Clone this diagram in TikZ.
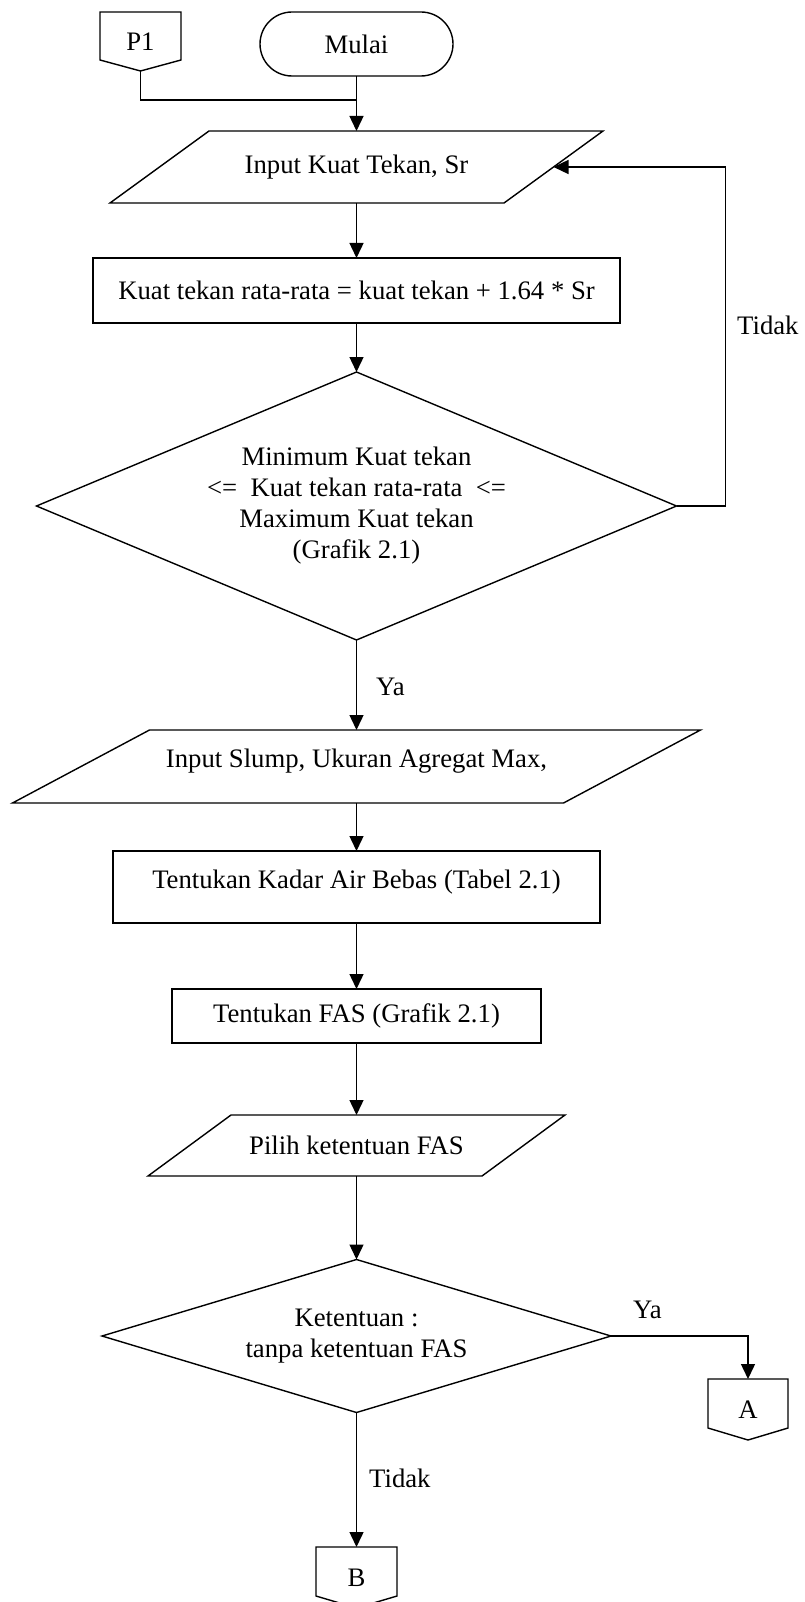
\documentclass[tikz,border=0pt]{standalone}
\usepackage{fontspec}
\setmainfont{Liberation Serif}
\usetikzlibrary{arrows.meta,calc}
\begin{document}
\begin{tikzpicture}[x=1pt,y=-1pt,
  font=\fontsize{26.7}{31}\selectfont,
  line/.style={line width=1.4pt, line join=miter},
  flow/.style={line, -{Triangle[length=15pt,width=14pt]}},
  box/.style 2 args={rectangle, inner sep=0pt, outer sep=0pt,
    minimum width=#1, minimum height=#2},
  lbl/.style={anchor=west, inner sep=0pt}]
\useasboundingbox (0,0) rectangle (804,1602);

% start terminal and off-page entry P1
\node[box={193pt}{64pt}, draw, line, rounded corners=32pt] (start) at (356.5,44) {Mulai};
\node[box={81pt}{59pt}] (p1) at (140.5,41.5) {P1};
\draw[line] (p1.north west) -- (p1.north east) -- ($(p1.south east)+(0,-11)$)
  -- (p1.south) -- ($(p1.south west)+(0,-11)$) -- cycle;
\coordinate (join) at (356.5,100);

% input: compressive strength
\node[box={493pt}{72pt}] (in1) at (356.5,167) {Input Kuat Tekan, Sr};
\draw[line] ($(in1.north west)+(99,0)$) -- (in1.north east)
  -- ($(in1.south east)+(-99,0)$) -- (in1.south west) -- cycle;
\coordinate (in1r) at ($(in1.east)+(-49.5,0)$);

% mean strength
\node[box={527pt}{65pt}, draw, line] (r1) at (356.5,290.5)
  {Kuat tekan rata-rata = kuat tekan + 1.64 * Sr};

% range check
\node[box={640pt}{268pt}, align=center] (d1) at (356.5,506)
  {Minimum Kuat tekan\\<=\ \ Kuat tekan rata-rata\ \ <=\\Maximum Kuat tekan\\(Grafik 2.1)};
\draw[line] (d1.north) -- (d1.east) -- (d1.south) -- (d1.west) -- cycle;
\coordinate (fb) at (725.7,167);
\node[lbl] (lt1) at (737,325) {Tidak};
\node[lbl] (ly1) at (376,687) {Ya};

% input: slump, max aggregate size
\node[box={688pt}{73pt}] (in2) at (356.5,766.5) {};
\draw[line] ($(in2.north west)+(137,0)$) -- (in2.north east)
  -- ($(in2.south east)+(-137,0)$) -- (in2.south west) -- cycle;
\node (t2) at ($(in2.center)+(0,-5)$) {Input Slump, Ukuran Agregat Max,};

% free water content
\node[box={487pt}{72pt}, draw, line] (r2) at (356.5,887) {};
\node (t3) at ($(r2.center)+(0,-5)$) {Tentukan Kadar Air Bebas (Tabel 2.1)};

% water-cement ratio
\node[box={369pt}{54pt}, draw, line] (r3) at (356.5,1016) {Tentukan FAS (Grafik 2.1)};

% choose FAS requirement
\node[box={417pt}{61pt}] (in3) at (356.5,1145.5) {Pilih ketentuan FAS};
\draw[line] ($(in3.north west)+(83,0)$) -- (in3.north east)
  -- ($(in3.south east)+(-83,0)$) -- (in3.south west) -- cycle;

% requirement decision
\node[box={509pt}{153pt}, align=center] (d2) at (356.5,1336)
  {Ketentuan :\\tanpa ketentuan FAS};
\draw[line] (d2.north) -- (d2.east) -- (d2.south) -- (d2.west) -- cycle;
\node[lbl] (ly2) at (633,1310) {Ya};
\node[lbl] (lt2) at (369,1478) {Tidak};

% off-page exits
\node[box={80pt}{61pt}] (A) at (748,1409.5) {A};
\draw[line] (A.north west) -- (A.north east) -- ($(A.south east)+(0,-12)$)
  -- (A.south) -- ($(A.south west)+(0,-12)$) -- cycle;
\node[box={81pt}{61pt}] (B) at (356.5,1577.5) {B};
\draw[line] (B.north west) -- (B.north east) -- ($(B.south east)+(0,-12)$)
  -- (B.south) -- ($(B.south west)+(0,-12)$) -- cycle;

% connectors
\draw[line] (p1.south) |- (join);
\draw[flow] (start.south) -- (in1.north);
\draw[flow] (in1.south) -- (r1.north);
\draw[flow] (r1.south) -- (d1.north);
\draw[flow] (d1.east) -| (fb) -- (in1r);
\draw[flow] (d1.south) -- (in2.north);
\draw[flow] (in2.south) -- (r2.north);
\draw[flow] (r2.south) -- (r3.north);
\draw[flow] (r3.south) -- (in3.north);
\draw[flow] (in3.south) -- (d2.north);
\draw[flow] (d2.east) -| (A.north);
\draw[flow] (d2.south) -- (B.north);
\end{tikzpicture}
\end{document}
